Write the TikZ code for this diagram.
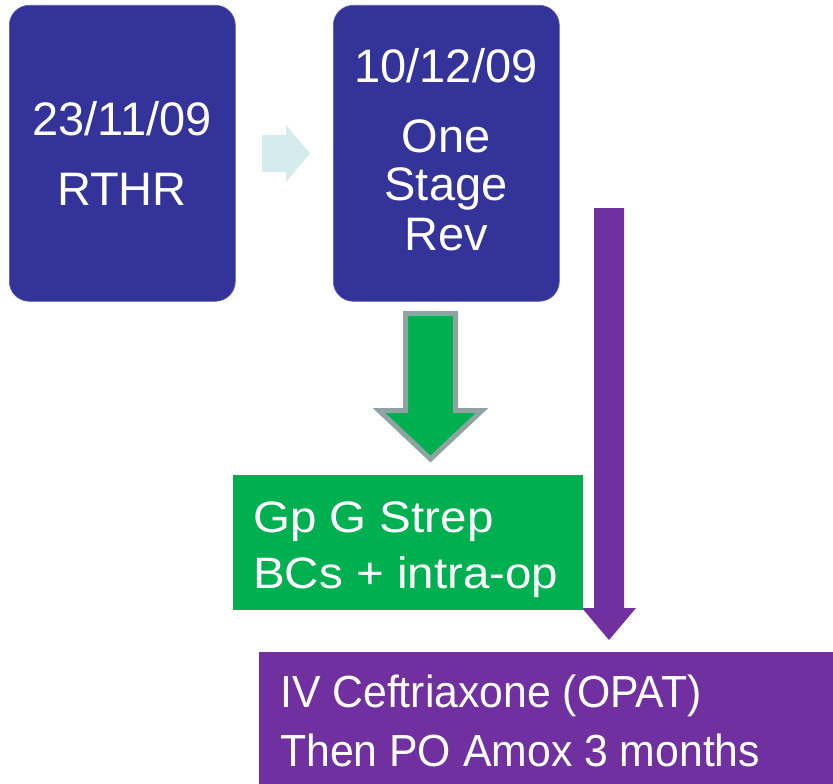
\documentclass[tikz,border=0pt]{standalone}
\usepackage{fontspec}
\setmainfont{Liberation Sans}
\newfontfamily\boxfont{Liberation Sans}
\newfontfamily\greenfont[FakeStretch=1.08]{Liberation Sans}
\newfontfamily\purplefont[FakeStretch=0.95]{Liberation Sans}
\definecolor{navybox}{HTML}{333399}
\definecolor{lightarrow}{HTML}{D6EBEE}
\definecolor{greenbox}{HTML}{00B050}
\definecolor{grayedge}{HTML}{8FA3A3}
\definecolor{purplebox}{HTML}{7030A0}
\tikzset{
  bluebox/.style={fill=navybox, draw=navybox!80!white, line width=0.6pt, rounded corners=20pt,
    minimum width=226pt, minimum height=296pt, inner sep=0pt, anchor=north west},
  bigtext/.style={text=white, anchor=base, inner sep=0pt, font=\boxfont\fontsize{47}{56}\selectfont},
  greentext/.style={text=white, anchor=base west, inner sep=0pt, font=\greenfont\fontsize{44}{52}\selectfont},
  purpletext/.style={text=white, anchor=base west, inner sep=0pt, font=\purplefont\fontsize{45}{54}\selectfont},
}
\begin{document}
\begin{tikzpicture}[x=1pt,y=-1pt]
\useasboundingbox (0,0) rectangle (833,784);
\fill[white] (0,0) rectangle (833,784);
% blue boxes
\node[bluebox] (b1) at (9,5) {};
\node[bluebox] (b2) at (333,5) {};
\node[bigtext] (t1a) at (122,135) {23/11/09};
\node[bigtext] (t1b) at (122,205) {RTHR};
\node[bigtext] (t2a) at (446,83) {10/12/09};
\node[bigtext] (t2b) at (446,152) {One};
\node[bigtext] (t2c) at (446,200) {Stage};
\node[bigtext] (t2d) at (446,250) {Rev};
% light right arrow
\fill[lightarrow] (262,135) -- (286,135) -- (286,125) -- (310,153.5) -- (286,182) -- (286,172) -- (262,172) -- cycle;
% purple long arrow
\fill[purplebox] (594,208) -- (624,208) -- (624,608) -- (636,608) -- (609,640) -- (582,608) -- (594,608) -- cycle;
% green down arrow
\filldraw[fill=greenbox, draw=grayedge, line width=5pt, line join=miter]
  (405.5,313.5) -- (455.5,313.5) -- (455.5,410.5) -- (482,410.5) -- (430.5,459) -- (379,410.5) -- (405.5,410.5) -- cycle;
% green box
\node[fill=greenbox, minimum width=350pt, minimum height=135pt, inner sep=0pt, anchor=north west] (g) at (233,475) {};
\node[greentext] (g1) at (253,532) {Gp G Strep};
\node[greentext] (g2) at (253,588) {BCs + intra-op};
% purple box
\node[fill=purplebox, minimum width=574pt, minimum height=132pt, inner sep=0pt, anchor=north west] (p) at (259,652) {};
\node[purpletext] (p1) at (280,707) {IV Ceftriaxone (OPAT)};
\node[purpletext] (p2) at (280,766) {Then PO Amox 3 months};
\end{tikzpicture}
\end{document}
